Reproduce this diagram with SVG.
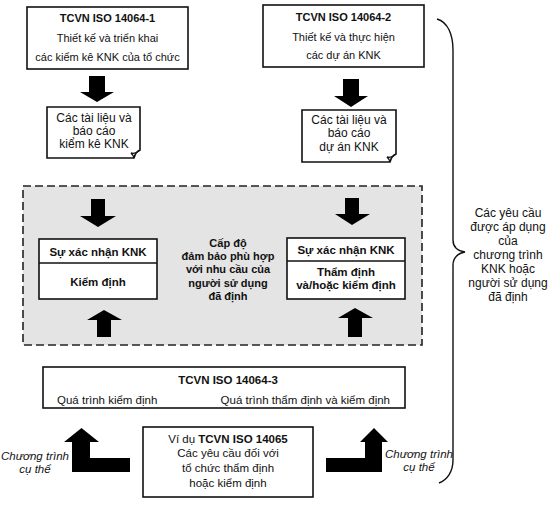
<svg xmlns="http://www.w3.org/2000/svg" width="555" height="505" viewBox="0 0 555 505">
<style>
text{font-family:"Liberation Sans",Arial,sans-serif;font-size:11px;fill:#111;text-anchor:middle}
.b{font-weight:bold}
.s{font-size:11.5px}
.t{font-size:12px}
.i{font-style:italic;font-size:11.5px}
.box{fill:#fff;stroke:#111;stroke-width:1.6}
.arr{fill:#000}
.ln{fill:none;stroke:#111;stroke-width:1.4}
</style>
<rect width="555" height="505" fill="#fff"/>

<g id="zone">
<rect x="23" y="186" width="399" height="159" fill="#e4e4e4" stroke="#222" stroke-width="1.6" stroke-dasharray="8,4"/>
<g class="b s">
<text x="228" y="247">Cấp độ</text>
<text x="228" y="260">đảm bảo phù hợp</text>
<text x="228" y="273">với nhu cầu của</text>
<text x="228" y="287">người sử dụng</text>
<text x="228" y="300">đã định</text>
</g>
</g>

<g id="iso1">
<rect class="box" x="27" y="7" width="161" height="62"/>
<text class="b" x="107.5" y="22">TCVN ISO 14064-1</text>
<text x="107.5" y="42">Thiết kế và triển khai</text>
<text x="107.5" y="61">các kiểm kê KNK của tổ chức</text>
</g>

<g id="iso2">
<rect class="box" x="263" y="5" width="161" height="62"/>
<text class="b" x="343.5" y="21">TCVN ISO 14064-2</text>
<text x="343.5" y="41">Thiết kế và thực hiện</text>
<text x="343.5" y="59">các dự án KNK</text>
</g>

<g id="doc1">
<path class="box" d="M47,107 H140 V150 C137,151 135,154 134,158 H47 Z"/>
<path class="ln" d="M140,150 C137,153 134,154 131,153 C133,155 134,157 134,158"/>
<text class="t" x="94" y="122">Các tài liệu và</text>
<text class="t" x="94" y="135">báo cáo</text>
<text class="t" x="94" y="148">kiểm kê KNK</text>
</g>

<g id="doc2">
<path class="box" d="M302,110 H396 V154 C393,155 391,158 390,162 H302 Z"/>
<path class="ln" d="M396,154 C393,157 390,158 387,157 C389,159 390,161 390,162"/>
<text class="t" x="349" y="124">Các tài liệu và</text>
<text class="t" x="349" y="137">báo cáo</text>
<text class="t" x="349" y="151">dự án KNK</text>
</g>

<g id="verif1">
<rect class="box" x="39" y="239" width="118" height="60"/>
<line class="ln" x1="39" y1="263" x2="157" y2="263" stroke-width="1.6"/>
<text class="b s" x="98" y="256">Sự xác nhận KNK</text>
<text class="b s" x="98" y="286">Kiểm định</text>
</g>

<g id="verif2">
<rect class="box" x="287" y="238" width="118" height="61"/>
<line class="ln" x1="287" y1="261" x2="405" y2="261" stroke-width="1.6"/>
<text class="b s" x="346" y="254">Sự xác nhận KNK</text>
<text class="b s" x="346" y="276">Thẩm định</text>
<text class="b s" x="346" y="289">và/hoặc kiểm định</text>
</g>

<g id="iso3">
<rect class="box" x="43" y="367" width="362" height="41"/>
<text class="b s" x="228" y="384">TCVN ISO 14064-3</text>
<text class="s" x="57" y="404" style="text-anchor:start">Quá trình kiểm định</text>
<text class="s" x="390" y="404" style="text-anchor:end">Quá trình thẩm định và kiểm định</text>
</g>

<g id="iso14065">
<rect class="box" x="143" y="427" width="170" height="70"/>
<text class="s" x="228" y="443">Ví dụ <tspan class="b">TCVN ISO 14065</tspan></text>
<text class="s" x="228" y="457">Các yêu cầu đối với</text>
<text class="s" x="228" y="472">tổ chức thẩm định</text>
<text class="s" x="228" y="487">hoặc kiểm định</text>
</g>

<g id="brace-note">
<text class="t" x="508" y="217">Các yêu cầu</text>
<text class="t" x="508" y="231">được áp dụng</text>
<text class="t" x="508" y="245">của</text>
<text class="t" x="508" y="259">chương trình</text>
<text class="t" x="508" y="273">KNK hoặc</text>
<text class="t" x="508" y="287">người sử dụng</text>
<text class="t" x="508" y="301">đã định</text>
</g>

<g id="label-left">
<text class="i" x="35" y="460">Chương trình</text>
<text class="i" x="35" y="473">cụ thể</text>
</g>
<g id="label-right">
<text class="i" x="419" y="458">Chương trình</text>
<text class="i" x="419" y="471">cụ thể</text>
</g>

<g id="connectors">
<polygon class="arr" points="89,76 105,76 105,92 114,92 97,102 80,92 89,92"/>
<polygon class="arr" points="343,79 359,79 359,96 368,96 351,107 334,96 343,96"/>
<polygon class="arr" points="91,199 105,199 105,216 116,216 98,227 80,216 91,216"/>
<polygon class="arr" points="104,310 122,320 111,320 111,337 97,337 97,320 87,320"/>
<polygon class="arr" points="345,198 359,198 359,214 370,214 352,225 335,214 345,214"/>
<polygon class="arr" points="355,308 373,318 362,318 362,337 348,337 348,318 338,318"/>
<polygon class="arr" points="81.5,428 99,442 90,442 90,458 130,458 130,472 72,472 72,442 64,442"/>
<polygon class="arr" points="374,428 388,442 382,442 382,472 326,472 326,458 365,458 365,442 360,442"/>
<path class="ln" d="M437,19 C448,22 453,35 453,50 L453,240 C453,247 458,251 465,252 C458,253 453,258 453,265 L453,460 C453,472 447,480 439,483"/>
</g>
</svg>
